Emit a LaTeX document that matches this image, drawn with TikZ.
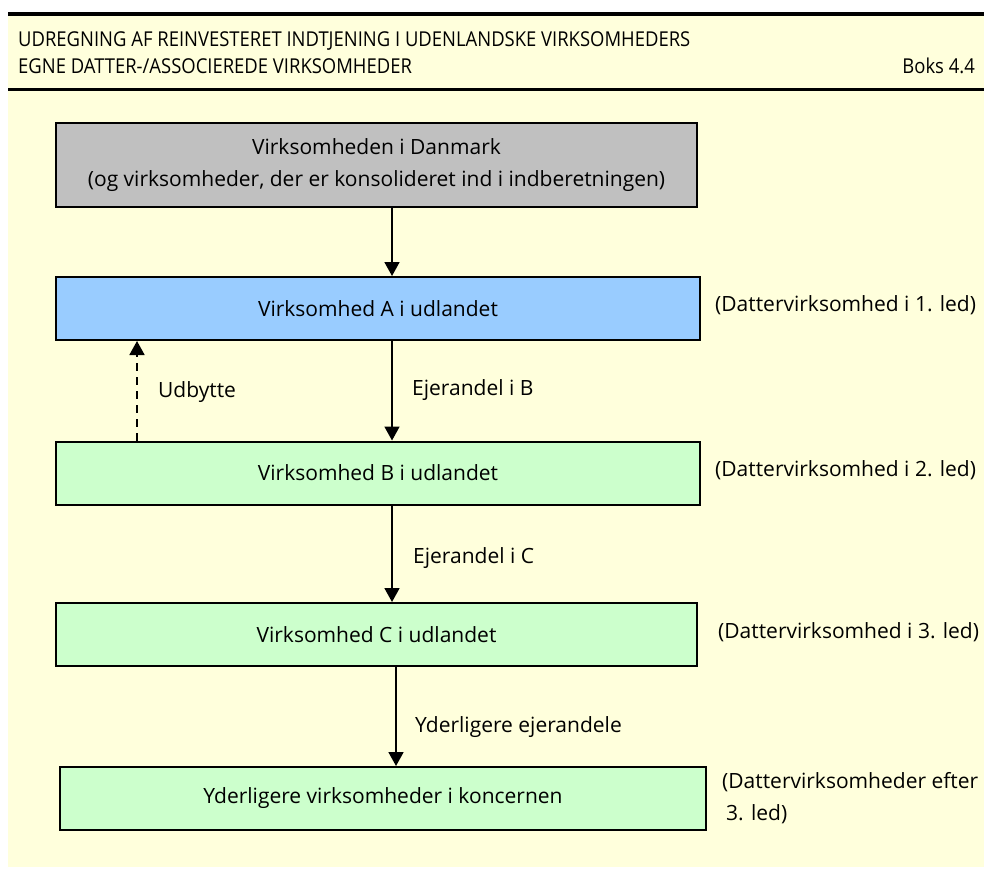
\documentclass[tikz,border=0pt]{standalone}
\usepackage{fontspec}
\setmainfont{Open Sans}
\newfontfamily\headfont[FakeStretch=0.9]{Open Sans}
\usetikzlibrary{arrows.meta}
\definecolor{bgyellow}{RGB}{255,255,220}
\definecolor{boxgray}{RGB}{192,192,192}
\definecolor{boxblue}{RGB}{153,204,255}
\definecolor{boxgreen}{RGB}{204,255,204}

\begin{document}
\begin{tikzpicture}[x=1pt,y=-1pt,
  font=\fontsize{21}{32}\selectfont,
  box/.style={draw, line width=2pt, minimum height=63pt, align=center},
  arr/.style={line width=1.8pt, -{Triangle[length=14pt,width=15pt]}},
  lbl/.style={anchor=west, inner sep=0pt},
  head/.style={lbl, font=\headfont\fontsize{20.5}{24}\selectfont}]
  \useasboundingbox (0,0) rectangle (984,869);
  \fill[bgyellow] (8,16) rectangle (984,867);
  \draw[line width=4pt] (8,14) -- (984,14);
  \draw[line width=3pt] (8,90) -- (984,90);
  % header
  \node[head] (title1) at (18,41) {UDREGNING AF REINVESTERET INDTJENING I UDENLANDSKE VIRKSOMHEDERS};
  \node[head] (title2) at (18,66) {EGNE DATTER-/ASSOCIEREDE VIRKSOMHEDER};
  \node[head, anchor=east] (boks) at (975,66) {Boks 4.4};
  % boxes
  \node[box, fill=boxgray, minimum width=641pt, minimum height=84pt] (dk) at (376.5,165) {Virksomheden i Danmark\\(og virksomheder, der er konsolideret ind i indberetningen)};
  \node[box, fill=boxblue, minimum width=644pt] (A) at (378,308.5) {Virksomhed A i udlandet};
  \node[box, fill=boxgreen, minimum width=644pt] (B) at (378,473) {Virksomhed B i udlandet};
  \node[box, fill=boxgreen, minimum width=641pt] (C) at (376.5,634.5) {Virksomhed C i udlandet};
  \node[box, fill=boxgreen, minimum width=646pt] (D) at (383,798.5) {Yderligere virksomheder i koncernen};
  % arrows
  \coordinate (a1) at (392,0);
  \coordinate (a2) at (396,0);
  \coordinate (udb) at (137,0);
  \draw[arr] (dk.south -| a1) -- (A.north -| a1);
  \draw[arr] (A.south -| a1) -- (B.north -| a1);
  \draw[arr] (B.south -| a1) -- (C.north -| a1);
  \draw[arr] (C.south -| a2) -- (D.north -| a2);
  \draw[arr, dash pattern=on 8pt off 6pt] (B.north -| udb) -- (A.south -| udb);
  \node[lbl] (udbytte) at (158,392) {Udbytte};
  \node[lbl] (ejB) at (412,390) {Ejerandel i B};
  \node[lbl] (ejC) at (413,558) {Ejerandel i C};
  \node[lbl] (ejD) at (415,727) {Yderligere ejerandele};
  % right side
  \node[lbl] (ledA) at (715,305) {(Dattervirksomhed i 1. led)};
  \node[lbl] (ledB) at (715,470) {(Dattervirksomhed i 2. led)};
  \node[lbl] (ledC) at (718,632) {(Dattervirksomhed i 3. led)};
  \node[lbl, align=left] (ledD) at (722,798) {(Dattervirksomheder efter\\\hspace{4pt}3. led)};
\end{tikzpicture}
\end{document}
